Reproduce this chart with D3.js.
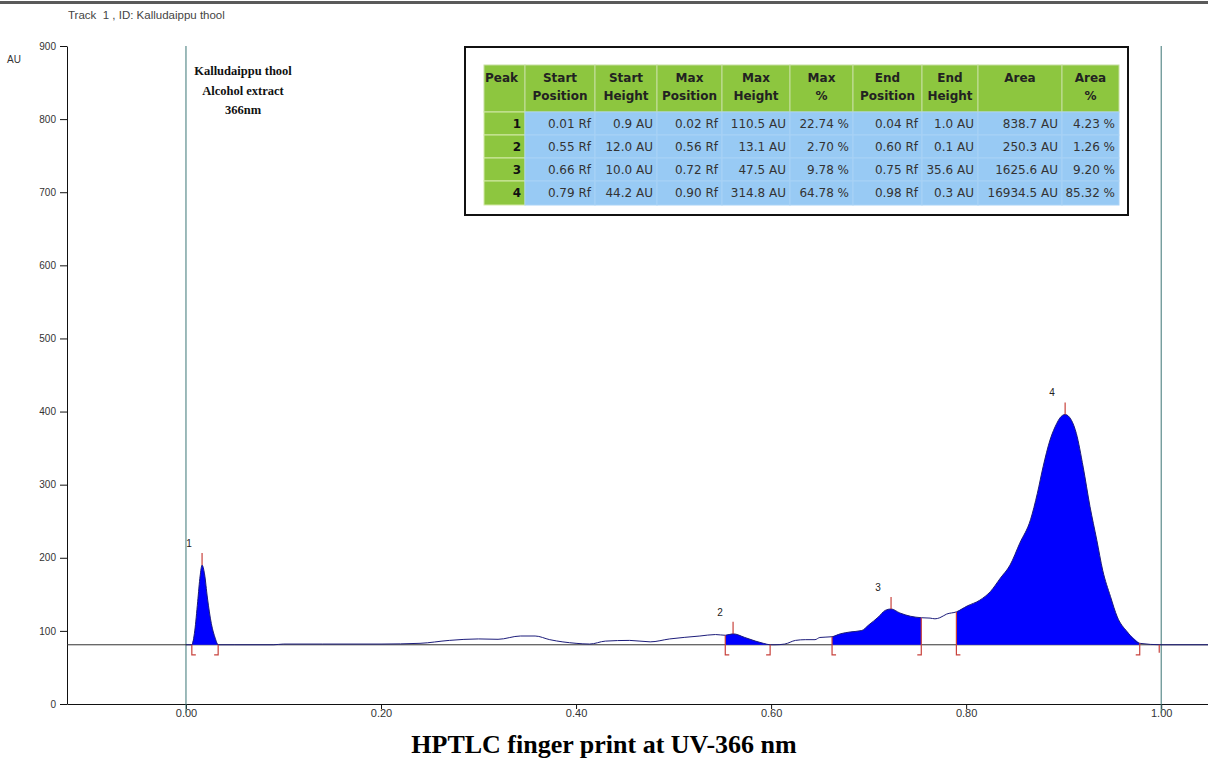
<!DOCTYPE html>
<html>
<head>
<meta charset="utf-8">
<script src="https://cdn.jsdelivr.net/npm/d3@7"></script>
<style>
  body { margin: 0; background: #fff; }
  svg { display: block; }
</style>
</head>
<body>
<div id="myChart"></div>
<script>
// Densitogram signal (Rf, AU)
const rf = [0.000, 0.006, 0.009, 0.012, 0.0145, 0.0165, 0.019, 0.022, 0.026, 0.030, 0.033,
  0.050, 0.090, 0.100, 0.140, 0.200, 0.240, 0.270, 0.300, 0.320, 0.343, 0.358, 0.373, 0.400, 0.414,
  0.430, 0.455, 0.476, 0.496, 0.527, 0.543, 0.553,
  0.561, 0.573, 0.584, 0.592, 0.599,
  0.604, 0.614, 0.625, 0.635, 0.645, 0.650, 0.6625,
  0.671, 0.681, 0.693, 0.700, 0.710, 0.717, 0.723, 0.732, 0.743, 0.754,
  0.763, 0.768, 0.773, 0.780, 0.790,
  0.801, 0.814, 0.825, 0.835, 0.845, 0.855, 0.866, 0.873, 0.879, 0.886, 0.893, 0.896, 0.9015,
  0.908, 0.913, 0.920, 0.927, 0.934, 0.940, 0.948, 0.955, 0.965, 0.978,
  1.000, 1.048];
const au = [81, 81, 100, 140, 175, 190, 178, 145, 110, 90, 81,
  81, 81, 82, 82, 82, 83, 87, 89, 88.5, 93, 93, 88, 83, 82,
  86, 87, 85, 89, 93, 95, 94,
  96, 91, 86, 83, 81,
  81, 82, 87, 88, 88, 91, 92,
  96, 98.5, 100.5, 108, 119, 128, 130, 124.5, 120, 118,
  117.5, 116.5, 118, 123, 126,
  134, 142, 154, 172, 190, 220, 252, 288, 325, 361, 384, 391, 396,
  388, 370, 324, 270, 224, 183, 147, 119, 99, 83,
  81, 81];
const baseline = 81;

// Integrated peaks
const peakNo = [1, 2, 3, 4];
const peakStartRf = [0.006, 0.553, 0.6625, 0.790];
const peakEndRf = [0.033, 0.599, 0.754, 0.978];
const peakMaxRf = [0.0165, 0.561, 0.723, 0.9015];
const peakMaxAU = [190, 96, 130, 396];
const trackEndRf = 0.998;

// Axis ticks
const yTicks = [0, 100, 200, 300, 400, 500, 600, 700, 800, 900];
const xTicks = [0, 0.2, 0.4, 0.6, 0.8, 1.0];

// Peak table
const tableHeads = [["Peak"], ["Start", "Position"], ["Start", "Height"], ["Max", "Position"], ["Max", "Height"],
  ["Max", "%"], ["End", "Position"], ["End", "Height"], ["Area"], ["Area", "%"]];
const startPosition = ["0.01 Rf", "0.55 Rf", "0.66 Rf", "0.79 Rf"];
const startHeight = ["0.9 AU", "12.0 AU", "10.0 AU", "44.2 AU"];
const maxPosition = ["0.02 Rf", "0.56 Rf", "0.72 Rf", "0.90 Rf"];
const maxHeight = ["110.5 AU", "13.1 AU", "47.5 AU", "314.8 AU"];
const maxPct = ["22.74 %", "2.70 %", "9.78 %", "64.78 %"];
const endPosition = ["0.04 Rf", "0.60 Rf", "0.75 Rf", "0.98 Rf"];
const endHeight = ["1.0 AU", "0.1 AU", "35.6 AU", "0.3 AU"];
const area = ["838.7 AU", "250.3 AU", "1625.6 AU", "16934.5 AU"];
const areaPct = ["4.23 %", "1.26 %", "9.20 %", "85.32 %"];

const w = 1208, h = 767;
const svg = d3.select("#myChart").append("svg").attr("width", w).attr("height", h);

const x = d3.scaleLinear().domain([-0.122, 1.048]).range([67, 1208]);
const y = d3.scaleLinear().domain([0, 900]).range([704, 46]);

const signal = rf.map((r, i) => ({rf: r, au: au[i]}));
const sigAt = r => signal.find(d => d.rf === r).au;

// top rule + header
svg.append("rect").attr("x", 0).attr("y", 1).attr("width", w).attr("height", 3).attr("fill", "#5a5a5a");
svg.append("text").attr("x", 68).attr("y", 19)
  .style("font", "11.5px 'Liberation Sans', Arial, sans-serif").style("white-space", "pre")
  .attr("fill", "#444").text("Track  1 , ID: Kalludaippu thool");
svg.append("text").attr("x", 7).attr("y", 63)
  .style("font", "10px 'Liberation Sans', Arial, sans-serif").attr("fill", "#333").text("AU");

// axes
const yAxis = svg.append("g").attr("transform", `translate(${x.range()[0]},0)`)
  .call(d3.axisLeft(y).tickValues(yTicks).tickSize(7).tickSizeOuter(0).tickPadding(4).tickFormat(d3.format("d")));
const xAxis = svg.append("g").attr("transform", `translate(0,${y(0)})`)
  .call(d3.axisBottom(x).tickValues(xTicks).tickSize(5).tickSizeOuter(0).tickPadding(0).tickFormat(d3.format(".2f")));
yAxis.selectAll("text").style("font", "10px 'Liberation Sans', Arial, sans-serif").attr("fill", "#333");
xAxis.selectAll("text").style("font", "11px 'Liberation Sans', Arial, sans-serif").attr("fill", "#333");
[yAxis, xAxis].forEach(g => g.selectAll("line, path").attr("stroke", "#111"));

// Rf 0 and Rf 1 guide lines
svg.selectAll(".guide").data([0, 1]).enter().append("line")
  .attr("x1", d => x(d)).attr("x2", d => x(d))
  .attr("y1", y(900)).attr("y2", y(0) + 9)
  .attr("stroke", "#3b7575").attr("stroke-width", 1);

// baseline
svg.append("line").attr("x1", x.range()[0]).attr("x2", x.range()[1])
  .attr("y1", y(baseline)).attr("y2", y(baseline)).attr("stroke", "#333").attr("stroke-width", 1);

// filled peaks
const peakArea = d3.area().curve(d3.curveMonotoneX)
  .x(d => x(d.rf)).y0(y(baseline)).y1(d => y(d.au));
svg.selectAll(".peak").data(peakNo).enter().append("path")
  .attr("d", (p, i) => peakArea(signal.filter(d => d.rf >= peakStartRf[i] && d.rf <= peakEndRf[i])))
  .attr("fill", "#0000ff");

// signal trace
svg.append("path")
  .attr("d", d3.line().curve(d3.curveMonotoneX).x(d => x(d.rf)).y(d => y(d.au))(signal.filter(d => d.rf >= 0)))
  .attr("fill", "none").attr("stroke", "#1c1c7a").attr("stroke-width", 1);

// start / end brackets
const red = "#c8423c";
const bBottom = y(baseline) + 10;
svg.selectAll(".bstart").data(peakStartRf).enter().append("path")
  .attr("d", d => `M${x(d)},${y(sigAt(d))}V${bBottom}H${x(d) + 4}`)
  .attr("fill", "none").attr("stroke", red).attr("stroke-width", 1.2);
svg.selectAll(".bend").data(peakEndRf).enter().append("path")
  .attr("d", d => `M${x(d)},${y(sigAt(d))}V${bBottom}H${x(d) - 4}`)
  .attr("fill", "none").attr("stroke", red).attr("stroke-width", 1.2);
svg.append("line").attr("x1", x(trackEndRf)).attr("x2", x(trackEndRf))
  .attr("y1", y(baseline)).attr("y2", y(baseline) + 8).attr("stroke", red).attr("stroke-width", 1.2);

// apex markers and labels
svg.selectAll(".apex").data(peakNo).enter().append("line")
  .attr("x1", (p, i) => x(peakMaxRf[i])).attr("x2", (p, i) => x(peakMaxRf[i]))
  .attr("y1", (p, i) => y(peakMaxAU[i])).attr("y2", (p, i) => y(peakMaxAU[i]) - 12)
  .attr("stroke", red).attr("stroke-width", 1.2);
svg.selectAll(".plabel").data(peakNo).enter().append("text")
  .attr("x", (p, i) => x(peakMaxRf[i]) - 13).attr("y", (p, i) => y(peakMaxAU[i]) - 18)
  .attr("text-anchor", "middle")
  .style("font", "10px 'Liberation Sans', Arial, sans-serif").attr("fill", "#222").text(p => p);

// sample annotation
svg.append("g").selectAll("text")
  .data(["Kalludaippu thool", "Alcohol extract", "366nm"]).enter().append("text")
  .attr("x", 243).attr("y", (d, i) => 75 + i * 19.5).attr("text-anchor", "middle")
  .style("font", "bold 12.5px 'Liberation Serif', 'Times New Roman', serif").attr("fill", "#111")
  .text(d => d);

// peak table
const tbl = svg.append("g");
tbl.append("rect").attr("x", 465).attr("y", 47).attr("width", 663).attr("height", 168)
  .attr("fill", "#fff").attr("stroke", "#111").attr("stroke-width", 2);
const colX = [484, 525, 595, 657, 722, 790, 853, 922, 978, 1062, 1119];
const headTop = 65, headH = 47, rowH = 23;
const green = "#8dc63f", blue = "#98caf4";
const cols = [peakNo.map(String), startPosition, startHeight, maxPosition, maxHeight, maxPct,
  endPosition, endHeight, area, areaPct];

tableHeads.forEach((hd, c) => {
  tbl.append("rect").attr("x", colX[c]).attr("y", headTop).attr("width", colX[c + 1] - colX[c]).attr("height", headH)
    .attr("fill", green).attr("stroke", "#c6dea0").attr("stroke-width", 1);
  hd.forEach((line, k) => {
    tbl.append("text")
      .attr("x", c === 0 ? colX[c] + 1 : (colX[c] + colX[c + 1]) / 2)
      .attr("y", headTop + 17 + k * 18)
      .attr("text-anchor", c === 0 ? "start" : "middle")
      .style("font", "bold 12px 'DejaVu Sans', Verdana, sans-serif").attr("fill", "#222").text(line);
  });
  cols[c].forEach((v, r) => {
    const ry = headTop + headH + r * rowH;
    tbl.append("rect").attr("x", colX[c]).attr("y", ry).attr("width", colX[c + 1] - colX[c])
      .attr("height", r === 3 ? rowH + 1 : rowH)
      .attr("fill", c === 0 ? green : blue).attr("stroke", c === 0 ? "#d4eaa8" : "#a8d2f6").attr("stroke-width", 1);
    tbl.append("text").attr("x", colX[c + 1] - 4).attr("y", ry + 16).attr("text-anchor", "end")
      .style("font", (c === 0 ? "bold " : "") + "12px 'DejaVu Sans', Verdana, sans-serif")
      .attr("fill", c === 0 ? "#111" : "#333").text(v);
  });
});

// caption
svg.append("text").attr("x", 604).attr("y", 753).attr("text-anchor", "middle")
  .style("font", "bold 26px 'Liberation Serif', 'Times New Roman', serif").attr("fill", "#000")
  .text("HPTLC finger print at UV-366 nm");
</script>
</body>
</html>
